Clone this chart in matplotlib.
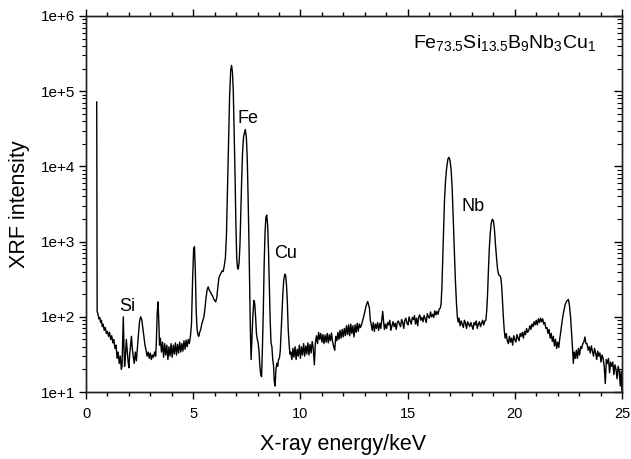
import matplotlib
matplotlib.use("Agg")
import matplotlib.pyplot as plt
from matplotlib.ticker import FixedLocator, LogLocator, FuncFormatter, MultipleLocator, NullFormatter
import numpy as np

plt.rcParams['font.family'] = ['Liberation Sans', 'DejaVu Sans']
plt.rcParams['mathtext.default'] = 'regular'

# ---- data ----
energy_keV = [
    0.50, 0.52, 0.56, 0.60, 0.64, 0.68, 0.72, 0.76, 0.80, 0.85, 0.90, 0.95, 1.00,
    1.05, 1.10, 1.15, 1.20, 1.25, 1.30, 1.35, 1.40, 1.45, 1.50, 1.55, 1.60, 1.65, 1.68,
    1.72, 1.74, 1.77, 1.80, 1.84, 1.88, 1.92, 1.96, 2.00, 2.04, 2.08, 2.12, 2.16, 2.20,
    2.25, 2.30, 2.35, 2.40, 2.45, 2.50, 2.55, 2.60, 2.65, 2.70, 2.75, 2.80, 2.85, 2.90,
    2.95, 3.00, 3.05, 3.10, 3.15, 3.20, 3.25, 3.28, 3.32, 3.36, 3.40, 3.43, 3.47, 3.52,
    3.57, 3.62, 3.67, 3.72, 3.77, 3.82, 3.87, 3.92, 3.97, 4.02, 4.07, 4.12, 4.17, 4.22,
    4.27, 4.32, 4.37, 4.42, 4.47, 4.52, 4.57, 4.62, 4.67, 4.72, 4.77, 4.82, 4.87, 4.92,
    4.97, 5.02, 5.06, 5.10, 5.14, 5.18, 5.22, 5.26, 5.30, 5.35, 5.40, 5.45, 5.50, 5.55,
    5.60, 5.65, 5.70, 5.75, 5.80, 5.85, 5.90, 5.95, 6.00, 6.05, 6.10, 6.15, 6.20, 6.25,
    6.30, 6.35, 6.40, 6.45, 6.50, 6.55, 6.60, 6.65, 6.70, 6.75, 6.79, 6.83, 6.87, 6.91,
    6.95, 6.99, 7.03, 7.07, 7.10, 7.14, 7.18, 7.22, 7.26, 7.30, 7.35, 7.43, 7.48, 7.52,
    7.56, 7.60, 7.64, 7.67, 7.70, 7.74, 7.78, 7.83, 7.87, 7.91, 7.95, 7.99, 8.03, 8.07,
    8.11, 8.15, 8.19, 8.23, 8.27, 8.31, 8.35, 8.39, 8.43, 8.47, 8.51, 8.55, 8.59, 8.63,
    8.67, 8.71, 8.75, 8.78, 8.82, 8.86, 8.90, 8.94, 8.98, 9.02, 9.06, 9.10, 9.14, 9.18,
    9.22, 9.27, 9.31, 9.35, 9.39, 9.43, 9.47, 9.51, 9.55, 9.60, 9.65, 9.70, 9.75, 9.80,
    9.85, 9.90, 9.95, 10.00, 10.05, 10.10, 10.15, 10.20, 10.25, 10.30, 10.35, 10.40,
    10.45, 10.50, 10.55, 10.60, 10.65, 10.70, 10.75, 10.80, 10.85, 10.90, 10.95, 11.00,
    11.05, 11.10, 11.15, 11.20, 11.25, 11.30, 11.35, 11.40, 11.45, 11.50, 11.55, 11.60,
    11.65, 11.70, 11.75, 11.80, 11.85, 11.90, 11.95, 12.00, 12.05, 12.10, 12.15, 12.20,
    12.25, 12.30, 12.35, 12.40, 12.45, 12.50, 12.55, 12.60, 12.65, 12.70, 12.75, 12.80,
    12.85, 12.90, 12.95, 13.00, 13.05, 13.10, 13.14, 13.18, 13.22, 13.26, 13.30, 13.35,
    13.40, 13.45, 13.50, 13.55, 13.60, 13.65, 13.70, 13.75, 13.80, 13.84, 13.88, 13.92,
    13.97, 14.02, 14.07, 14.12, 14.17, 14.22, 14.27, 14.32, 14.37, 14.42, 14.47, 14.52,
    14.57, 14.62, 14.67, 14.72, 14.77, 14.82, 14.87, 14.92, 14.97, 15.02, 15.07, 15.12,
    15.17, 15.22, 15.27, 15.32, 15.37, 15.42, 15.47, 15.52, 15.57, 15.62, 15.67, 15.72,
    15.77, 15.82, 15.87, 15.92, 15.97, 16.02, 16.07, 16.12, 16.17, 16.22, 16.27, 16.32,
    16.37, 16.42, 16.47, 16.52, 16.56, 16.60, 16.64, 16.68, 16.72, 16.77, 16.82, 16.88,
    16.93, 16.98, 17.03, 17.08, 17.13, 17.18, 17.23, 17.28, 17.32, 17.36, 17.40, 17.45,
    17.50, 17.55, 17.60, 17.65, 17.70, 17.75, 17.80, 17.85, 17.90, 17.95, 18.00, 18.05,
    18.10, 18.15, 18.20, 18.25, 18.30, 18.35, 18.40, 18.45, 18.50, 18.55, 18.60, 18.65,
    18.69, 18.73, 18.77, 18.81, 18.85, 18.90, 18.95, 19.00, 19.05, 19.10, 19.15, 19.20,
    19.25, 19.30, 19.35, 19.39, 19.43, 19.47, 19.51, 19.55, 19.60, 19.65, 19.70, 19.75,
    19.80, 19.85, 19.90, 19.95, 20.00, 20.05, 20.10, 20.15, 20.20, 20.25, 20.30, 20.35,
    20.40, 20.45, 20.50, 20.55, 20.60, 20.65, 20.70, 20.75, 20.80, 20.85, 20.90, 20.95,
    21.00, 21.05, 21.10, 21.15, 21.20, 21.25, 21.30, 21.35, 21.40, 21.45, 21.50, 21.55,
    21.60, 21.65, 21.70, 21.75, 21.80, 21.85, 21.90, 21.95, 22.00, 22.05, 22.10, 22.15,
    22.20, 22.25, 22.30, 22.35, 22.40, 22.45, 22.50, 22.55, 22.60, 22.65, 22.70, 22.73,
    22.77, 22.82, 22.87, 22.92, 22.97, 23.02, 23.07, 23.12, 23.17, 23.22, 23.27, 23.32,
    23.37, 23.42, 23.47, 23.52, 23.57, 23.62, 23.67, 23.72, 23.77, 23.82, 23.87, 23.92,
    23.97, 24.02, 24.07, 24.12, 24.17, 24.22, 24.27, 24.32, 24.37, 24.42, 24.47, 24.52,
    24.57, 24.62, 24.67, 24.72, 24.77, 24.82, 24.87, 24.92, 24.96, 25.00,
]

xrf_counts = [
    72000, 118, 108, 94, 98, 84, 90, 74, 80, 66, 72, 60, 64,
    55, 62, 50, 56, 45, 50, 38, 42, 28, 34, 24, 30, 20, 22,
    60, 100, 40, 22, 30, 50, 36, 26, 21, 32, 42, 55, 38, 30,
    24, 34, 26, 40, 60, 88, 100, 92, 72, 55, 42, 36, 30, 34,
    28, 33, 27, 31, 29, 34, 30, 45, 110, 158, 80, 42, 52, 34,
    46, 29, 44, 31, 42, 27, 40, 30, 44, 29, 42, 32, 45, 31,
    43, 33, 46, 34, 44, 35, 48, 37, 49, 40, 50, 44, 55, 80,
    300, 800, 860, 400, 120, 68, 58, 55, 62, 68, 80, 90, 100, 130,
    180, 230, 250, 225, 215, 200, 190, 175, 165, 158, 180, 250, 330, 360,
    380, 410, 400, 480, 600, 1200, 5000, 20000, 90000, 190000, 220000, 180000, 100000, 30000,
    8000, 1800, 600, 440, 430, 520, 900, 2500, 6500, 15000, 25000, 31000, 24000, 13000,
    4000, 1000, 200, 60, 27, 50, 100, 165, 150, 100, 60, 50, 45, 35,
    22, 17, 16, 40, 120, 500, 1300, 2100, 2250, 1700, 800, 250, 90, 45,
    40, 27, 22, 14, 12, 20, 24, 22, 27, 28, 35, 60, 110, 200,
    300, 370, 360, 270, 160, 70, 45, 32, 34, 27, 38, 29, 40, 27,
    37, 30, 42, 28, 40, 31, 44, 30, 41, 32, 45, 31,
    43, 33, 47, 38, 23, 45, 56, 44, 62, 50, 60, 46,
    58, 44, 57, 46, 60, 45, 58, 48, 61, 47, 40, 36,
    55, 48, 62, 50, 66, 52, 68, 54, 70, 56, 76, 58,
    78, 56, 80, 60, 76, 54, 78, 62, 82, 64, 80, 72,
    78, 88, 100, 115, 135, 150, 160, 145, 130, 90, 80, 66,
    84, 64, 80, 70, 84, 66, 82, 70, 95, 118, 86, 68,
    80, 70, 84, 78, 90, 66, 76, 86, 74, 82, 68, 84,
    88, 80, 74, 92, 84, 70, 90, 96, 82, 78, 100, 88,
    80, 98, 92, 104, 80, 96, 76, 100, 106, 90, 98, 86,
    104, 94, 84, 110, 100, 96, 116, 100, 108, 98, 120, 106,
    118, 108, 126, 130, 145, 250, 600, 1500, 3500, 6500, 9500, 12500,
    13200, 12000, 9000, 5000, 2000, 770, 300, 150, 100, 85, 96, 76,
    88, 80, 72, 90, 82, 70, 86, 80, 74, 84, 76, 68,
    84, 78, 88, 70, 80, 86, 74, 82, 90, 78, 88, 90,
    120, 200, 420, 800, 1250, 1750, 1980, 1900, 1450, 900, 600, 420,
    360, 355, 330, 250, 150, 95, 65, 52, 60, 48, 44, 55,
    46, 52, 42, 56, 50, 46, 58, 52, 48, 60, 55, 62,
    52, 64, 58, 70, 62, 66, 76, 68, 80, 74, 86, 78,
    90, 78, 94, 84, 96, 86, 94, 80, 84, 70, 72, 60,
    68, 52, 60, 47, 55, 41, 50, 38, 46, 39, 52, 65,
    85, 105, 125, 145, 158, 165, 170, 140, 100, 60, 35, 24,
    34, 28, 36, 28, 38, 31, 40, 38, 44, 46, 54, 44,
    44, 36, 40, 33, 41, 35, 30, 38, 33, 27, 35, 30,
    33, 25, 31, 28, 22, 13, 27, 24, 28, 18, 25, 22,
    25, 17, 23, 20, 15, 22, 19, 12, 19, 10,
]

x_ticks = [0, 5, 10, 15, 20, 25]
y_ticks = [1e1, 1e2, 1e3, 1e4, 1e5, 1e6]

peak_labels = ["Si", "Fe", "Cu", "Nb"]
peak_label_x = [1.91, 7.56, 9.33, 18.05]
peak_label_y = [139, 44000, 705, 2890]

formula = r"$Fe_{73.5}Si_{13.5}B_{9}Nb_{3}Cu_{1}$"

# ---- figure ----
fig = plt.figure(figsize=(6.31, 4.59), dpi=100)
ax = fig.add_axes([86/631, (459-392)/459, (622-86)/631, (392-16)/459])

ax.plot(energy_keV, xrf_counts, color='black', lw=1.0)
ax.set_yscale('log')
ax.set_xlim(0, 25)
ax.set_ylim(1e1, 1e6)

ax.xaxis.set_major_locator(FixedLocator(x_ticks))
ax.xaxis.set_minor_locator(MultipleLocator(1))
ax.yaxis.set_major_locator(FixedLocator(y_ticks))
ax.yaxis.set_minor_locator(LogLocator(base=10, subs=np.arange(2, 10)))
ax.yaxis.set_minor_formatter(NullFormatter())
ax.yaxis.set_major_formatter(FuncFormatter(lambda v, p: "1e+%d" % int(round(np.log10(v)))))

ax.tick_params(axis='x', which='both', direction='out', top=True, labelsize=10.5, pad=6)
ax.tick_params(axis='x', which='major', length=5, width=1)
ax.tick_params(axis='x', which='minor', length=3, width=1)
ax.tick_params(axis='y', which='both', direction='out', right=False, labelsize=11, pad=3)
ax.tick_params(axis='y', which='major', length=5, width=1)
ax.tick_params(axis='y', which='minor', length=3, width=0.8)

# right axis with inward ticks
axr = ax.twinx()
axr.set_yscale('log')
axr.set_ylim(1e1, 1e6)
axr.yaxis.set_major_locator(FixedLocator(y_ticks))
axr.yaxis.set_minor_locator(LogLocator(base=10, subs=np.arange(2, 10)))
axr.tick_params(axis='y', which='both', direction='in', labelright=False)
axr.tick_params(axis='y', which='major', length=6, width=1)
axr.tick_params(axis='y', which='minor', length=3.5, width=0.8)

for a in (ax, axr):
    for s in a.spines.values():
        s.set_linewidth(1.0)
        s.set_color('#222222')

ax.set_xlabel("X-ray energy/keV", fontsize=15.5)
ax.xaxis.set_label_coords(0.479, -0.112)
ax.set_ylabel("XRF intensity", fontsize=15.5)
ax.yaxis.set_label_coords(-0.104, 0.5)

for lab, lx, ly in zip(peak_labels, peak_label_x, peak_label_y):
    ax.text(lx, ly, lab, fontsize=13, ha='center', va='center')

ax.text(0.781, 0.915, formula, transform=ax.transAxes, fontsize=14,
        ha='center', va='baseline')

fig.savefig("out.png", dpi=100)
